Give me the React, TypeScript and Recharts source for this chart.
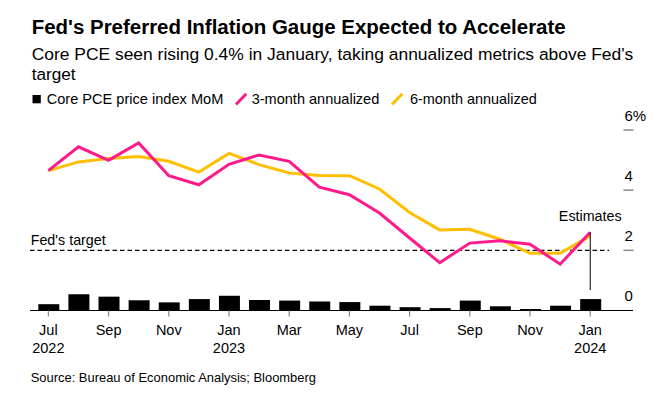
import React from 'react';
import { ComposedChart, Bar, Line, XAxis, YAxis, ReferenceLine } from 'recharts';

const months = [
  'Jul 2022', 'Aug 2022', 'Sep 2022', 'Oct 2022', 'Nov 2022', 'Dec 2022',
  'Jan 2023', 'Feb 2023', 'Mar 2023', 'Apr 2023', 'May 2023', 'Jun 2023',
  'Jul 2023', 'Aug 2023', 'Sep 2023', 'Oct 2023', 'Nov 2023', 'Dec 2023',
  'Jan 2024',
];
const corePceMoM = [0.21, 0.54, 0.46, 0.34, 0.27, 0.38, 0.49, 0.35, 0.33, 0.3, 0.28, 0.16, 0.11, 0.08, 0.33, 0.14, 0.05, 0.16, 0.38];
const threeMonth = [4.65, 5.44, 4.99, 5.57, 4.48, 4.18, 4.86, 5.17, 4.96, 4.1, 3.85, 3.24, 2.41, 1.59, 2.24, 2.32, 2.2, 1.54, 2.6];
const sixMonth = [4.65, 4.94, 5.05, 5.12, 4.96, 4.6, 5.22, 4.85, 4.57, 4.49, 4.48, 4.04, 3.26, 2.68, 2.7, 2.37, 1.9, 1.9, 2.48];
const yTicks = [0, 2, 4, 6];
const fedTarget = 2;
const estimateTop = 2.6;
const estimateBottom = 0.68;

const data = months.map((m, i) => ({
  m,
  mom: corePceMoM[i],
  three: threeMonth[i],
  six: sixMonth[i],
}));

const FONT = "'Liberation Sans', Arial, Helvetica, sans-serif";
const MAGENTA = '#ff1a8c';
const GOLD = '#ffbf00';

const XTick = (props: any) => {
  const { x, y, payload } = props;
  const [mon, yr] = String(payload.value).split(' ');
  const showYear = mon === 'Jan' || months.indexOf(payload.value) === 0;
  return (
    <text x={x} y={y} textAnchor="middle" fontSize={14.5} fill="#000" fontFamily={FONT}>
      <tspan x={x} dy={16.5}>{mon}</tspan>
      {showYear && <tspan x={x} dy={17.7}>{yr}</tspan>}
    </text>
  );
};

const YTick = (props: any) => {
  const { y, payload } = props;
  const v = payload.value;
  return (
    <g>
      {v !== 0 && <line x1={623.5} x2={633.5} y1={y} y2={y} stroke="#8a8a8a" strokeWidth={1.5} />}
      <text x={624.5} y={y - 9.5} fontSize={15} fill="#000" fontFamily={FONT}>
        {v === 6 ? '6%' : String(v)}
      </text>
    </g>
  );
};

const TargetShape = (p: any) => {
  const left = Math.min(p.x1, p.x2);
  const right = Math.max(p.x1, p.x2);
  return (
    <g>
      <line x1={left} y1={p.y1} x2={right - 24} y2={p.y2} stroke="#000" strokeWidth={1.4} strokeDasharray="4.5 3" />
      <text x={left + 0.7} y={p.y1 - 5.5} fontSize={14.3} fill="#000" fontFamily={FONT}>Fed's target</text>
    </g>
  );
};

export default function App() {
  return (
    <div style={{ position: 'absolute', left: 0, top: 0, width: 656, height: 397, background: '#fff', fontFamily: FONT }}>
      <div style={{ position: 'absolute', left: 0, top: 0 }}>
        <ComposedChart width={656} height={397} data={data} margin={{ top: 130, right: 0, bottom: 46.5, left: 30 }}>
          <XAxis
            dataKey="m"
            interval={1}
            tick={<XTick />}
            tickLine={{ stroke: '#888', strokeWidth: 1.2 }}
            tickSize={6}
            tickMargin={2}
            axisLine={{ stroke: '#000', strokeWidth: 1.2 }}
            padding={{ left: 3.3, right: 27.7 }}
            height={40}
          />
          <YAxis
            orientation="right"
            domain={[0, 6]}
            ticks={yTicks}
            axisLine={false}
            tickLine={false}
            tick={<YTick />}
            width={23}
            interval={0}
          />
          <ReferenceLine y={fedTarget} shape={TargetShape} />
          <Bar dataKey="mom" fill="#000" barSize={21} isAnimationActive={false} />
          <Line type="linear" dataKey="six" stroke={GOLD} strokeWidth={3} dot={false} activeDot={false} isAnimationActive={false} />
          <Line type="linear" dataKey="three" stroke={MAGENTA} strokeWidth={3} dot={false} activeDot={false} isAnimationActive={false} />
          <ReferenceLine
            segment={[{ x: 'Jan 2024', y: estimateTop }, { x: 'Jan 2024', y: estimateBottom }]}
            stroke="#000"
            strokeWidth={1}
            label={{ value: 'Estimates', position: 'top', offset: 11.6, fontSize: 14.3, fill: '#000', fontFamily: FONT }}
          />
        </ComposedChart>
      </div>
      <svg width={656} height={397} style={{ position: 'absolute', left: 0, top: 0, pointerEvents: 'none' }}>
        <g fontFamily={FONT} fill="#000">
          <text x={31.7} y={34} fontSize={20} fontWeight={700} textLength={534} lengthAdjust="spacingAndGlyphs">
            Fed's Preferred Inflation Gauge Expected to Accelerate
          </text>
          <text x={31.7} y={60} fontSize={17.2} textLength={601.6} lengthAdjust="spacingAndGlyphs">
            Core PCE seen rising 0.4% in January, taking annualized metrics above Fed's
          </text>
          <text x={31.7} y={80} fontSize={17.2}>target</text>
          <rect x={32.5} y={95} width={8.3} height={8.3} fill="#000" />
          <text x={46.7} y={104} fontSize={14.5} textLength={176.6} lengthAdjust="spacingAndGlyphs">Core PCE price index MoM</text>
          <line x1={236} y1={104.5} x2={246.3} y2={93.8} stroke={MAGENTA} strokeWidth={3} />
          <text x={251.7} y={104} fontSize={14.5} textLength={127.6} lengthAdjust="spacingAndGlyphs">3-month annualized</text>
          <line x1={392} y1={104.5} x2={402.3} y2={93.8} stroke={GOLD} strokeWidth={3} />
          <text x={410} y={104} fontSize={14.5} textLength={126.7} lengthAdjust="spacingAndGlyphs">6-month annualized</text>
          <text x={30.7} y={381.7} fontSize={13} textLength={285.3} lengthAdjust="spacingAndGlyphs">
            Source: Bureau of Economic Analysis; Bloomberg
          </text>
        </g>
      </svg>
    </div>
  );
}
